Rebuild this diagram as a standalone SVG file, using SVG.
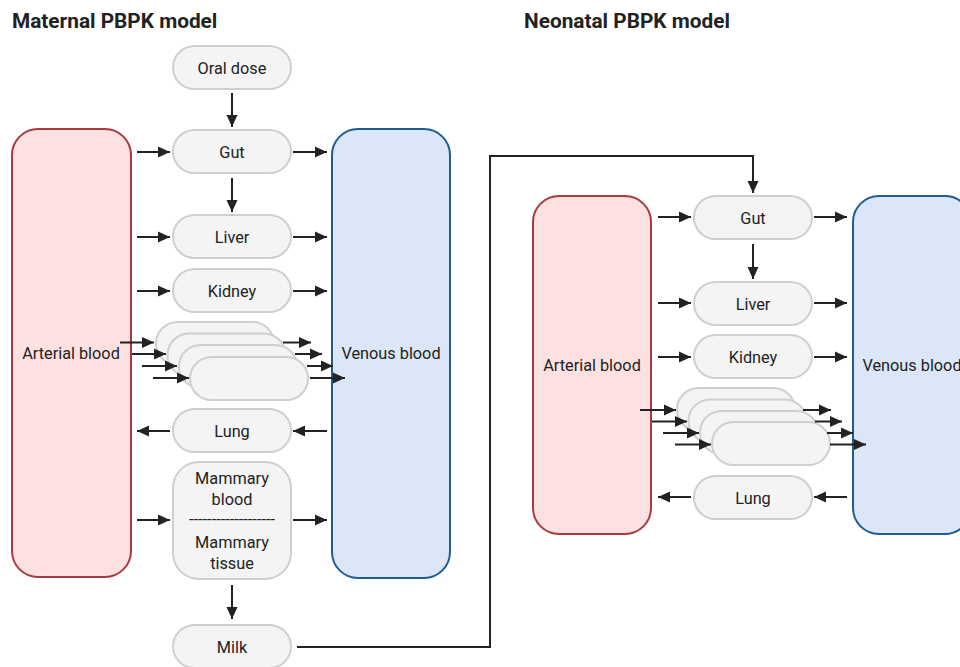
<svg xmlns="http://www.w3.org/2000/svg" width="960" height="667" viewBox="0 0 960 667">
<defs>
<marker id="ah" markerUnits="userSpaceOnUse" markerWidth="13" markerHeight="13" refX="12" refY="6.5" orient="auto">
<path d="M0,1 L12,6.5 L0,12 z" fill="#222"/>
</marker>
<style>
.t{font-family:Roboto,"Liberation Sans",sans-serif;font-size:16.3px;fill:#222;text-anchor:middle}
.h{font-family:Roboto,"Liberation Sans",sans-serif;font-size:20.8px;font-weight:bold;fill:#222}
.c{fill:#f4f4f4;stroke:#cfcfcf;stroke-width:2}
.art{fill:#fde0e0;stroke:#a83a40;stroke-width:2}
.ven{fill:#dbe7f8;stroke:#1f5b94;stroke-width:2}
.a{stroke:#222;stroke-width:2;fill:none;marker-end:url(#ah)}
</style>
</defs>
<rect width="960" height="667" fill="#fff"/>
<text class="h" x="12" y="28">Maternal PBPK model</text>
<text class="h" x="524" y="28">Neonatal PBPK model</text>

<g id="m-arterial"><rect class="art" x="12" y="129" width="119" height="448" rx="26"/><text class="t" x="71" y="359">Arterial blood</text></g>
<g id="m-venous"><rect class="ven" x="332" y="129" width="118" height="449" rx="26"/><text class="t" x="391" y="359">Venous blood</text></g>
<g id="m-oral"><rect class="c" x="173" y="46" width="118" height="43" rx="21.5"/><text class="t" x="232" y="73.5">Oral dose</text></g>
<g id="m-gut"><rect class="c" x="173" y="130" width="118" height="43" rx="21.5"/><text class="t" x="232" y="157.5">Gut</text></g>
<g id="m-liver"><rect class="c" x="173" y="215" width="118" height="43" rx="21.5"/><text class="t" x="232" y="242.5">Liver</text></g>
<g id="m-kidney"><rect class="c" x="173" y="269" width="118" height="43" rx="21.5"/><text class="t" x="232" y="296.5">Kidney</text></g>
<g id="m-other">
<rect class="c" x="156" y="322" width="118" height="43" rx="21.5"/>
<rect class="c" x="167.5" y="333.5" width="118" height="43" rx="21.5"/>
<rect class="c" x="179" y="345" width="118" height="43" rx="21.5"/>
<rect class="c" x="190" y="357" width="118" height="43" rx="21.5"/>
</g>
<g id="m-lung"><rect class="c" x="173" y="409" width="118" height="43" rx="21.5"/><text class="t" x="232" y="436.5">Lung</text></g>
<g id="m-mammary"><rect class="c" x="173" y="462" width="118" height="117" rx="26"/>
<text class="t" x="232" y="484">Mammary</text><text class="t" x="232" y="505">blood</text>
<text class="t" x="232" y="525" textLength="86" lengthAdjust="spacingAndGlyphs">-------------------</text>
<text class="t" x="232" y="548">Mammary</text><text class="t" x="232" y="569">tissue</text></g>
<g id="m-milk"><rect class="c" x="173" y="625" width="118" height="43" rx="21.5"/><text class="t" x="232" y="652.5">Milk</text></g>

<g id="n-arterial"><rect class="art" x="533" y="196" width="118" height="338" rx="26"/><text class="t" x="592" y="371">Arterial blood</text></g>
<g id="n-venous"><rect class="ven" x="853" y="196" width="118" height="338" rx="26"/><text class="t" x="912" y="371">Venous blood</text></g>
<g id="n-gut"><rect class="c" x="694" y="196" width="118" height="43" rx="21.5"/><text class="t" x="753" y="223.5">Gut</text></g>
<g id="n-liver"><rect class="c" x="694" y="282" width="118" height="43" rx="21.5"/><text class="t" x="753" y="309.5">Liver</text></g>
<g id="n-kidney"><rect class="c" x="694" y="335" width="118" height="43" rx="21.5"/><text class="t" x="753" y="362.5">Kidney</text></g>
<g id="n-other">
<rect class="c" x="677" y="388" width="118" height="43" rx="21.5"/>
<rect class="c" x="688.5" y="399.5" width="118" height="43" rx="21.5"/>
<rect class="c" x="700" y="411" width="118" height="43" rx="21.5"/>
<rect class="c" x="712" y="422" width="118" height="43" rx="21.5"/>
</g>
<g id="n-lung"><rect class="c" x="694" y="476" width="118" height="43" rx="21.5"/><text class="t" x="753" y="503.5">Lung</text></g>

<g id="connectors">
<path class="a" d="M232,93 V127"/>
<path class="a" d="M232,178 V212"/>
<path class="a" d="M137,152 H170"/>
<path class="a" d="M293,152 H327"/>
<path class="a" d="M137,237 H170"/>
<path class="a" d="M293,237 H327"/>
<path class="a" d="M137,291 H170"/>
<path class="a" d="M293,291 H327"/>
<path class="a" d="M120,342.5 H154"/>
<path class="a" d="M132,354 H166"/>
<path class="a" d="M142,366 H177"/>
<path class="a" d="M153,378 H189"/>
<path class="a" d="M283,342.5 H311"/>
<path class="a" d="M295,354 H322"/>
<path class="a" d="M307,366 H333"/>
<path class="a" d="M310,378 H345"/>
<path class="a" d="M327,431 H293"/>
<path class="a" d="M170,431 H137"/>
<path class="a" d="M137,520 H170"/>
<path class="a" d="M293,520 H327"/>
<path class="a" d="M232,585 V619"/>
<path class="a" d="M297,647 H490 V156 H753 V193"/>
<path class="a" d="M658,217 H691"/>
<path class="a" d="M814,217 H847"/>
<path class="a" d="M753,244 V279"/>
<path class="a" d="M658,303 H691"/>
<path class="a" d="M814,303 H847"/>
<path class="a" d="M658,357 H691"/>
<path class="a" d="M814,357 H847"/>
<path class="a" d="M640,410 H676"/>
<path class="a" d="M652,421.5 H687"/>
<path class="a" d="M663,433 H699"/>
<path class="a" d="M675,444.5 H711"/>
<path class="a" d="M803,410 H831"/>
<path class="a" d="M815,421.5 H842"/>
<path class="a" d="M827,433 H853"/>
<path class="a" d="M830,444.5 H866"/>
<path class="a" d="M847,497 H814"/>
<path class="a" d="M691,497 H658"/>
</g>
</svg>
